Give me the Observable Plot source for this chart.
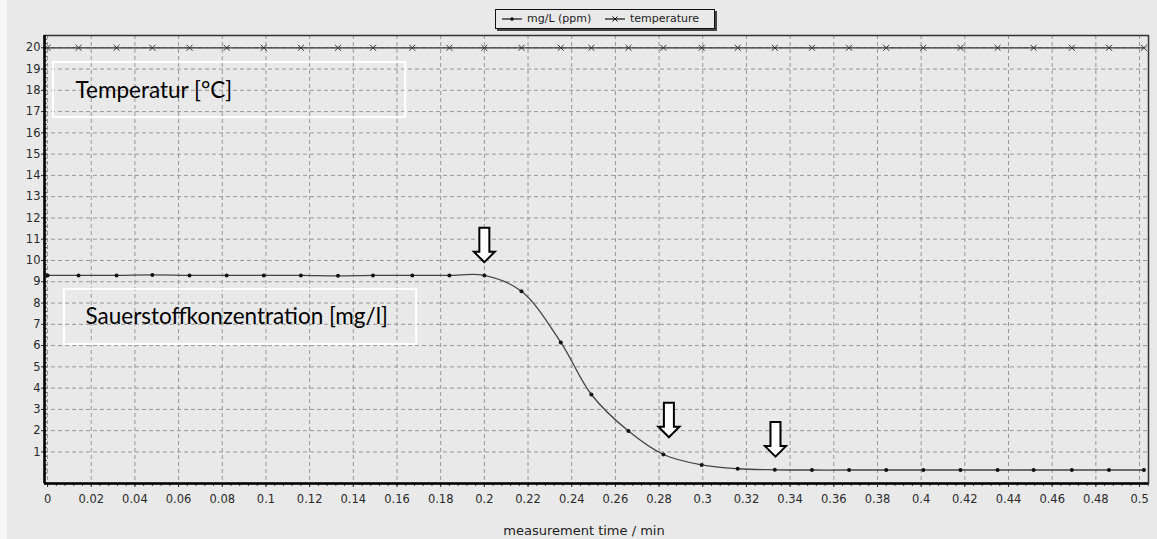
<!DOCTYPE html>
<html>
<head>
<meta charset="utf-8">
<script src="https://cdn.jsdelivr.net/npm/d3@7"></script>
<script src="https://cdn.jsdelivr.net/npm/@observablehq/plot@0.6"></script>
<style>
  body { margin: 0; background: #ffffff; }
  #wrap { position: relative; width: 1157px; height: 539px; background: #e9e9e9; overflow: hidden; }
  #strip { position: absolute; left: 0; top: 0; width: 7px; height: 539px; background: #f6f6f6; }
  #legend { position: absolute; left: 495px; top: 9px; width: 218px; height: 18px; border: 1px solid #111;
            box-shadow: 2px 2px 0 #444; font: 11px "DejaVu Sans", sans-serif; color: #222; }
  #legend .item { position: absolute; top: 0; height: 18px; line-height: 18px; white-space: nowrap; }
  #legend svg { vertical-align: middle; margin-right: 5px; }
  #chart { position: absolute; left: 0; top: 30px; }
  #xlabel { position: absolute; top: 523px; left: 484px; width: 200px; text-align: center;
            font: 13px "DejaVu Sans", sans-serif; color: #222; }
</style>
</head>
<body>
<div id="wrap">
  <div id="strip"></div>
  <div id="chart"></div>
  <div id="legend"></div>
  <div id="xlabel"></div>
</div>
<script>
// ---- data ----
const time = [0, 0.0142, 0.0316, 0.048, 0.065, 0.082, 0.099, 0.116, 0.133, 0.149, 0.167, 0.184,
              0.2, 0.217, 0.235, 0.249, 0.266, 0.282, 0.2995, 0.316, 0.333, 0.35, 0.367, 0.384,
              0.401, 0.418, 0.435, 0.4515, 0.469, 0.486, 0.502];
const oxygen = [9.3, 9.3, 9.3, 9.32, 9.3, 9.3, 9.3, 9.3, 9.28, 9.3, 9.3, 9.3,
                9.3, 8.55, 6.15, 3.7, 1.98, 0.88, 0.39, 0.21, 0.16, 0.15, 0.15, 0.15,
                0.15, 0.15, 0.15, 0.15, 0.15, 0.15, 0.15];
const temperature = [20, 20, 20, 20, 20, 20, 20, 20, 20, 20, 20, 20,
                     20, 20, 20, 20, 20, 20, 20, 20, 20, 20, 20, 20,
                     20, 20, 20, 20, 20, 20, 20];
const seriesNames = ["mg/L (ppm)", "temperature"];
const xTicks = [0, 0.02, 0.04, 0.06, 0.08, 0.1, 0.12, 0.14, 0.16, 0.18, 0.2, 0.22, 0.24, 0.26,
                0.28, 0.3, 0.32, 0.34, 0.36, 0.38, 0.4, 0.42, 0.44, 0.46, 0.48, 0.5];
const yTicks = [1, 2, 3, 4, 5, 6, 7, 8, 9, 10, 11, 12, 13, 14, 15, 16, 17, 18, 19, 20];
const arrowTimes = [0.2, 0.2845, 0.3333];
const arrowTips = [9.92, 1.69, 0.78];
const boxTexts = ["Temperatur [°C]", "Sauerstoffkonzentration [mg/l]"];
const boxX1 = [0.0027, 0.0078];
const boxX2 = [0.164, 0.169];
const boxY1 = [19.31, 8.64];
const boxY2 = [16.72, 6.05];
const boxTextX = [0.0128, 0.0174];
const boxTextY = [18.0, 7.37];
const xTitle = "measurement time / min";

const xDomain = [-0.0014, 0.5041];
const yDomain = [-0.484, 20.578];

// ---- build tables ----
const rows = time.map((t, i) => ({t, oxygen: oxygen[i], temperature: temperature[i]}));
const arrows = arrowTimes.map((x, i) => ({x, y: arrowTips[i]}));
const boxes = boxTexts.map((text, i) => ({text, x1: boxX1[i], x2: boxX2[i], y1: boxY1[i], y2: boxY2[i],
                                          tx: boxTextX[i], ty: boxTextY[i]}));
const xMinor = d3.range(0, 0.5041, 0.004);
const yMinor = d3.range(0, 20.5, 0.2);

const W = 1157, H = 509, mT = 5, mB = 56, mL = 44, mR = 9;
const innerH = H - mT - mB, innerW = W - mL - mR;

const arrowSymbol = {
  draw(ctx) {
    ctx.moveTo(0, 0);
    ctx.lineTo(-10.5, -10.5);
    ctx.lineTo(-5, -10.5);
    ctx.lineTo(-5, -34.5);
    ctx.lineTo(5, -34.5);
    ctx.lineTo(5, -10.5);
    ctx.lineTo(10.5, -10.5);
    ctx.closePath();
  }
};

const grid = "#979797";
const chart = Plot.plot({
  width: W, height: H,
  marginTop: mT, marginBottom: mB, marginLeft: mL, marginRight: mR,
  style: {background: "transparent", fontFamily: "DejaVu Sans", fontSize: "11.5px", color: "#2a2a2a"},
  x: {domain: xDomain, ticks: xTicks, tickFormat: d => String(Math.round(d * 100) / 100),
      tickSize: 4, tickPadding: 7, label: null},
  y: {domain: yDomain, ticks: yTicks, tickFormat: d => String(d), tickSize: 3, tickPadding: 1, label: null},
  marks: [
    Plot.ruleX(xTicks, {stroke: grid, strokeDasharray: "4,3", strokeWidth: 1}),
    Plot.ruleY(yTicks, {stroke: grid, strokeDasharray: "4,3", strokeWidth: 1}),
    Plot.ruleX(xMinor, {insetTop: innerH, insetBottom: -3, stroke: "#444"}),
    Plot.ruleY(yMinor, {insetLeft: 0, insetRight: innerW - 3, stroke: "#555"}),
    Plot.frame({stroke: "#333", strokeWidth: 1.5}),
    Plot.ruleX([xDomain[0]], {stroke: "#000", strokeWidth: 2.5}),
    Plot.ruleY([yDomain[0]], {stroke: "#000", strokeWidth: 2.5}),
    Plot.rect(boxes, {x1: "x1", x2: "x2", y1: "y1", y2: "y2", stroke: "#ffffff", strokeWidth: 2, fill: "none"}),
    Plot.text(boxes, {x: "tx", y: "ty", text: "text", textAnchor: "start", fontSize: 22.5,
                      fontFamily: "Lato", fill: "#000"}),
    Plot.line(rows, {x: "t", y: "temperature", stroke: "#333", strokeWidth: 1.3}),
    Plot.dot(rows, {x: "t", y: "temperature", symbol: "times", r: 2.8, stroke: "#333", strokeWidth: 1}),
    Plot.line(rows, {x: "t", y: "oxygen", curve: "catmull-rom", stroke: "#444", strokeWidth: 1.3}),
    Plot.dot(rows, {x: "t", y: "oxygen", r: 2, fill: "#111", stroke: "none"}),
    Plot.dot(arrows, {x: "x", y: "y", symbol: arrowSymbol, fill: "#ffffff", stroke: "#000", strokeWidth: 2})
  ]
});
document.getElementById("chart").appendChild(chart);
document.getElementById("xlabel").textContent = xTitle;

// legend
const lg = document.getElementById("legend");
const lpos = [[6, "dot"], [109, "times"]];
seriesNames.forEach((name, i) => {
  const d = document.createElement("div");
  d.className = "item";
  d.style.left = lpos[i][0] + "px";
  const marker = lpos[i][1] === "dot"
    ? '<circle cx="10" cy="4" r="1.8" fill="#111"/>'
    : '<path d="M7.5,1.5L12.5,6.5M12.5,1.5L7.5,6.5" stroke="#111" stroke-width="1"/>';
  d.innerHTML = '<svg width="20" height="8"><line x1="0" x2="20" y1="4" y2="4" stroke="#111" stroke-width="1.2"/>' +
    marker + '</svg>' + name;
  lg.appendChild(d);
});
</script>
</body>
</html>
